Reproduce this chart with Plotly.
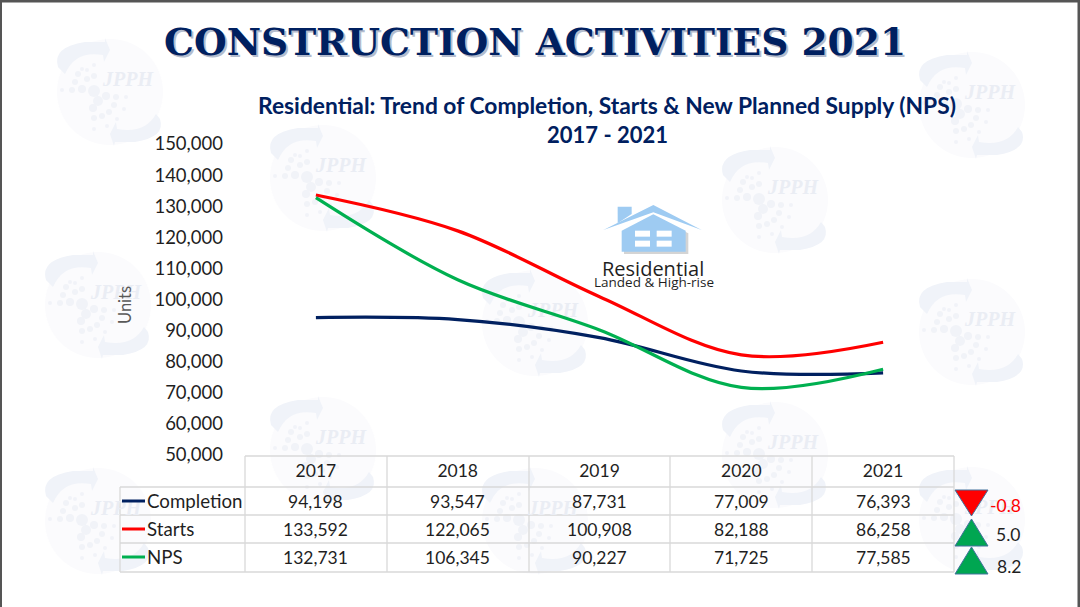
import re
import plotly.graph_objects as go

# Data

years = ['2017', '2018', '2019', '2020', '2021']
completion = [94198, 93547, 87731, 77009, 76393]
starts = [133592, 122065, 100908, 82188, 86258]
nps = [132731, 106345, 90227, 71725, 77585]
series_names = ['Completion', 'Starts', 'NPS']
changes = ['-0.8', '5.0', '8.2']
y_ticks = [50000, 60000, 70000, 80000, 90000, 100000, 110000, 120000, 130000, 140000, 150000]

# Layout helpers, page is 1080 x 607

W = 1080
H = 607
NAVY = '#002060'
RED = '#ff0000'
GREEN = '#00b050'
GRID = '#d9d9d9'
TEXT = '#1f1f1f'
FONT = 'Lato'

def px(x):
    return x / W

def py(y):
    return 1 - y / H

def path(d, ox=0, oy=0, scale=1):
    # turns "M x,y L x,y" in pixels into paper coordinates
    def conv(m):
        return '%.5f,%.5f' % (px(ox + float(m.group(1)) * scale), py(oy + float(m.group(2)) * scale))
    return re.sub(r'(-?[\d.]+),(-?[\d.]+)', conv, d)

shapes = []
annotations = []

def add_path(d, fill, line='rgba(0,0,0,0)', width=0, ox=0, oy=0, scale=1, layer='below'):
    shapes.append(dict(type='path', path=path(d, ox, oy, scale), xref='paper', yref='paper',
                       fillcolor=fill, line=dict(color=line, width=width), layer=layer))

def add_line(x0, y0, x1, y1, color, width=1.3, layer='below'):
    shapes.append(dict(type='line', xref='paper', yref='paper', x0=px(x0), y0=py(y0), x1=px(x1), y1=py(y1),
                       line=dict(color=color, width=width), layer=layer))

def add_circle(cx, cy, r, fill, line='rgba(0,0,0,0)'):
    shapes.append(dict(type='circle', xref='paper', yref='paper', x0=px(cx - r), x1=px(cx + r),
                       y0=py(cy - r), y1=py(cy + r), fillcolor=fill, line=dict(color=line, width=1), layer='below'))

def add_text(x, y, text, size, color=TEXT, family=FONT, xanchor='center', textangle=0, xref='paper'):
    annotations.append(dict(x=x if xref != 'paper' else px(x), y=py(y), xref=xref, yref='paper', text=text,
                            showarrow=False, xanchor=xanchor, yanchor='middle', textangle=textangle,
                            font=dict(family=family, size=size, color=color)))

# Watermark globes

globe_centers = [(110, 92), (323, 178), (775, 200), (972, 105), (98, 305), (535, 323),
                 (972, 332), (323, 450), (775, 455), (98, 521), (535, 521), (972, 520)]
globe_dots = [(-16, 26, 3), (-8, 24, 3), (-1, 20, 3), (4, 13, 3), (6, 5, 3), (-4, 4, 4), (-12, 9, 5),
              (-17, 16, 4), (-16, -16, 3), (-16, -27, 2), (-28, -23, 2), (-23, -22, 2), (-32, -18, 3),
              (-23, -13, 3), (-35, -10, 3), (-28, -3, 4), (-38, -2, 3), (-48, -2, 2), (-16, -1, 6),
              (14, 17, 2), (7, 27, 2), (-3, 34, 2), (-16, 37, 2), (16, 5, 2)]
arrow_top = 'M -52,-25 Q -58,-45 -25,-50 L -5,-50 L -5,-54 L 0,-42 L -6,-30 L -7,-37 Q -35,-42 -45,-18 Z'
arrow_bottom = 'M 50,27 Q 56,45 25,50 L 5,50 L 4,54 L 0,42 L 6,30 L 7,37 Q 35,42 46,22 Z'

for cx, cy in globe_centers:
    add_circle(cx, cy, 53, '#fbfbfd')
    add_path(arrow_top, '#f0f3f9', ox=cx, oy=cy)
    add_path(arrow_bottom, '#f0f3f9', ox=cx, oy=cy)
    for dx, dy, r in globe_dots:
        add_circle(cx + dx, cy + dy, r, '#f1f3f8')

# Page border

add_line(0, 1, W, 1, '#555555', 3)
add_line(0.5, 0, 0.5, H, '#555555', 3)
add_line(W - 1, 0, W - 1, H, '#555555', 3)

# Table grid under the chart

col_edges = [245, 387, 529, 670, 812, 954]
row_edges = [456, 487, 515, 543, 572]
for i, y in enumerate(row_edges):
    add_line(245 if i == 0 else 120, y, 954, y, GRID)
for x in col_edges:
    add_line(x, 456, x, 572, GRID)
add_line(120, 487, 120, 572, GRID)

row_ys = [501, 529, 557]
row_colors = [NAVY, RED, GREEN]
rows = [completion, starts, nps]
for name, vals, y, color in zip(series_names, rows, row_ys, row_colors):
    add_line(122, y, 145, y, color, 3, layer='above')
    add_text(145, y, name, 18.7, xanchor='left')
    for i, v in enumerate(vals):
        # numeric looking categories need the index here, not the label
        add_text(i, y, format(v, ','), 17.5, xref='x2')

# Change markers at the right of the table

tri_line = '#41719c'
add_path('M 955,490 L 988,490 L 971.5,516 Z', RED, tri_line, 1, layer='above')
add_path('M 955,546 L 988,546 L 971.5,519 Z', '#00a651', tri_line, 1, layer='above')
add_path('M 955,574 L 988,574 L 971.5,547 Z', '#00a651', tri_line, 1, layer='above')
add_text(1005, 505, changes[0], 17.5, color=RED)
add_text(1008, 534, changes[1], 17.5)
add_text(1009, 566, changes[2], 17.5)

# House icon

house_blue = '#9ecbf2'
house_x = 540
house_y = 180
def hp(d, fill):
    add_path(d, fill, ox=house_x, oy=house_y, scale=1 / 3)

hp('M 252,160 L 345,112 L 445,160 L 445,222 L 252,222 Z', '#d4d4d4')
hp('M 233,80 L 275,80 L 275,102 L 233,130 Z', house_blue)
hp('M 190,150 L 340,75 L 485,150 L 340,97 Z', house_blue)
hp('M 245,152 L 340,103 L 437,152 L 437,215 L 245,215 Z', house_blue)
hp('M 285,152 L 330,152 L 330,170 L 285,170 Z', 'white')
hp('M 350,152 L 395,152 L 395,170 L 350,170 Z', 'white')
hp('M 285,182 L 330,182 L 330,200 L 285,200 Z', 'white')
hp('M 350,182 L 395,182 L 395,200 L 350,200 Z', 'white')
add_text(653, 268, 'Residential', 20, family='Open Sans')
add_text(654, 282, 'Landed &amp; High-rise', 13.5, family='Open Sans')

# Titles

title = 'CONSTRUCTION ACTIVITIES 2021'
add_text(536.5, 43.5, '<b>' + title + '</b>', 37.6, color='#b4bccd', family='DejaVu Serif')
add_text(535, 42, '<b>' + title + '</b>', 37.6, color=NAVY, family='DejaVu Serif')
add_text(607, 105, '<b>Residential: Trend of Completion, Starts &amp; New Planned Supply (NPS)</b>', 22.8, color=NAVY)
add_text(607, 134, '<b>2017 - 2021</b>', 22, color=NAVY)
add_text(125, 305, 'Units', 16.5, color='#595959', textangle=-90)

# Chart

fig = go.Figure()

# watermark lettering goes on a hidden page-sized subplot so it stays behind the lines
fig.add_trace(go.Scatter(x=[c[0] + 18 for c in globe_centers], y=[c[1] - 11 for c in globe_centers],
                         mode='text', text=['<b><i>JPPH</i></b>'] * len(globe_centers),
                         textfont=dict(family='Liberation Serif', size=20, color='#eaedf4'),
                         xaxis='x', yaxis='y', hoverinfo='skip'))

for name, vals, color in zip(series_names, rows, row_colors):
    fig.add_trace(go.Scatter(x=years, y=vals, name=name, mode='lines', xaxis='x2', yaxis='y2',
                             line=dict(color=color, width=3.2, shape='spline', smoothing=1.0)))

fig.update_layout(
    width=W, height=H, margin=dict(l=0, r=0, t=0, b=0, pad=0, autoexpand=False), showlegend=False,
    paper_bgcolor='white', plot_bgcolor='rgba(0,0,0,0)',
    xaxis=dict(range=[0, W], domain=[0, 1], visible=False),
    yaxis=dict(range=[H, 0], domain=[0, 1], visible=False),
    xaxis2=dict(type='category', range=[-0.5, 4.5], domain=[px(245), px(954)], anchor='y2', automargin=False,
                showgrid=False, zeroline=False, showline=False, ticks='',
                ticklabelstandoff=3, tickfont=dict(family=FONT, size=17.5, color=TEXT)),
    yaxis2=dict(range=[50000, 150000], domain=[py(455), py(144)], anchor='x2', tickvals=y_ticks, tickformat=',',
                automargin=False, showgrid=False, zeroline=False, showline=False, ticks='',
                ticklabelstandoff=21, tickfont=dict(family=FONT, size=18.5, color=TEXT)),
    shapes=shapes, annotations=annotations)

fig.write_html("out.html", config={'displayModeBar': False},
               post_script="document.body.style.margin = '0'; document.documentElement.style.overflow = 'hidden';")
